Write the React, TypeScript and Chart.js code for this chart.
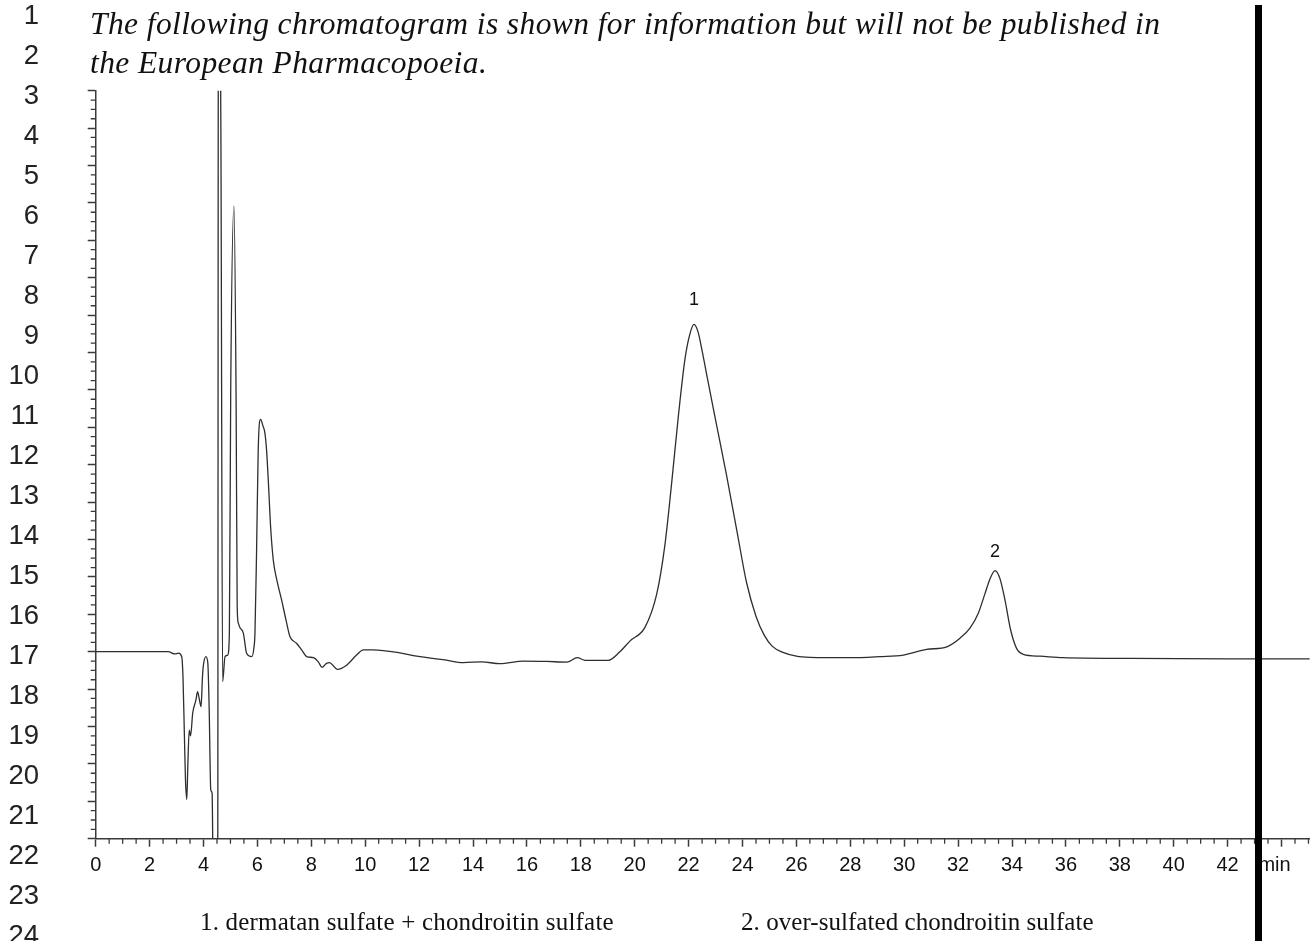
import React, { useEffect, useRef } from "react";
import { Chart, registerables } from "chart.js";

Chart.register(...registerables);

// Retention time (min)
const times: number[] = [
  0, 1.5, 2.69, 2.94, 3.07, 3.19, 3.24, 3.29, 3.33, 3.38, 3.42, 3.47, 3.52, 3.6, 3.72, 3.78, 3.84, 3.91,
  3.96, 3.99, 4.09, 4.16, 4.21, 4.27, 4.32, 4.36, 4.5, 4.53, 4.55, 4.63, 4.65, 4.71, 4.8, 4.9, 4.96,
  5.01, 5.13, 5.21, 5.25, 5.29, 5.35, 5.48, 5.6, 5.79, 5.87, 5.91, 5.97, 6.03, 6.12, 6.2, 6.28, 6.34,
  6.41, 6.49, 6.59, 6.72, 6.9, 7.06, 7.21, 7.46, 7.64, 7.83, 8.08, 8.26, 8.4, 8.55, 8.67, 8.97, 9.31,
  9.68, 9.93, 10.3, 11.29, 11.91, 12.96, 13.64, 14.32, 15.0, 15.87, 16.73, 17.48, 17.87, 18.16, 19.02,
  19.45, 19.83, 20.38, 20.82, 21.12, 21.37, 21.62, 21.87, 22.05, 22.2, 22.35, 22.5, 22.7, 23.0, 23.4,
  23.8, 24.15, 24.5, 24.8, 25.1, 25.5, 26.0, 26.5, 28.0, 29.1, 29.97, 30.83, 31.58, 32.07, 32.44, 32.75,
  33.0, 33.19, 33.37, 33.55, 33.74, 33.95, 34.17, 34.42, 35.04, 35.9, 38.38, 42.09, 45.05,
];

// Detector signal (arbitrary units)
const signal: number[] = [
  5.0, 5.0, 5.0, 4.94, 4.96, 4.87, 4.3, 2.8, 1.6, 1.05, 2.0, 2.9, 2.75, 3.36, 3.71, 3.93, 3.75, 3.53,
  4.3, 4.6, 4.87, 4.7, 3.5, 1.3, 1.22, -1, -1, 0, 21, 21, 18, 4.2, 4.87, 4.91, 5.5,
  12.0, 16.92, 11.7, 6.2, 5.77, 5.65, 5.49, 4.96, 4.87, 5.1, 5.5, 7.72, 10.39, 11.21, 11.05, 10.84, 10.39,
  9.5, 8.34, 7.45, 6.92, 6.38, 5.85, 5.4, 5.22, 5.05, 4.87, 4.84, 4.73, 4.58, 4.68, 4.71, 4.53, 4.64,
  4.91, 5.05, 5.05, 4.97, 4.88, 4.78, 4.71, 4.73, 4.68, 4.75, 4.74, 4.72, 4.84, 4.77, 4.77,
  5.0, 5.29, 5.65, 6.55, 7.85, 9.5, 11.3, 12.85, 13.5, 13.75, 13.55, 13.05, 12.3, 11.2, 9.75,
  8.2, 6.85, 5.95, 5.45, 5.15, 4.98, 4.88, 4.85, 4.84, 4.87, 4.91, 5.06, 5.13, 5.36, 5.63, 6.03,
  6.56, 6.96, 7.17, 6.96, 6.38, 5.58, 5.09, 4.93, 4.88, 4.84, 4.82, 4.81, 4.81,
];

// Peak annotations
const peakLabels: string[] = ["1", "2"];
const peakTimes: number[] = [22.2, 33.37];
const peakLabelLevels: number[] = [14.39, 7.67];

// Axis settings
const X_MIN = 0;
const X_MAX = 45.05;
const X_MAJOR = 2;
const X_MINOR = 0.5;
const Y_MIN = 0;
const Y_MAX = 20;
const Y_MAJOR = 1;
const Y_MINOR = 0.25;
const X_UNIT_LABEL = "min";
const X_UNIT_AT = 43.74;
const X_UNIT_TICK = 44;

// Page texts
const titleLines: string[] = [
  "The following chromatogram is shown for information but will not be published in",
  "the European Pharmacopoeia.",
];
const legendItems: string[] = [
  "1. dermatan sulfate + chondroitin sulfate",
  "2. over-sulfated chondroitin sulfate",
];
const lineNumbers: number[] = Array.from({ length: 24 }, (_, i) => i + 1);

const AXIS_COLOR = "#3a3a3a";
const TRACE_COLOR = "#2e2e2e";
const SANS = "'Liberation Sans', Arial, sans-serif";
const SERIF = "'Liberation Serif', 'Times New Roman', serif";
const TICK_FONT_SIZE = 20;
const TICK_PADDING = 7;

const minorTicksPlugin = {
  id: "minorTicks",
  afterDraw(chart: any) {
    const { ctx, scales } = chart;
    const x = scales.x;
    const y = scales.y;
    ctx.save();
    ctx.strokeStyle = AXIS_COLOR;
    ctx.lineWidth = 1.3;
    ctx.beginPath();
    for (let v = X_MIN; v <= X_MAX + 1e-6; v += X_MINOR) {
      const r = v / X_MAJOR;
      if (Math.abs(r - Math.round(r)) < 1e-6) continue;
      const px = x.getPixelForValue(v);
      ctx.moveTo(px, y.bottom);
      ctx.lineTo(px, y.bottom + 5);
    }
    for (let v = Y_MIN; v <= Y_MAX + 1e-6; v += Y_MINOR) {
      const r = v / Y_MAJOR;
      if (Math.abs(r - Math.round(r)) < 1e-6) continue;
      const py = y.getPixelForValue(v);
      ctx.moveTo(x.left - 5, py);
      ctx.lineTo(x.left, py);
    }
    ctx.stroke();
    // unit label on the time axis
    ctx.fillStyle = "#111";
    ctx.font = `${TICK_FONT_SIZE}px ${SANS}`;
    ctx.textAlign = "center";
    ctx.textBaseline = "top";
    ctx.fillText(X_UNIT_LABEL, x.getPixelForValue(X_UNIT_AT), y.bottom + 10 + TICK_PADDING);
    ctx.restore();
  },
};

const peakLabelPlugin = {
  id: "peakLabels",
  afterDatasetsDraw(chart: any) {
    const { ctx, scales } = chart;
    ctx.save();
    ctx.fillStyle = "#111";
    ctx.font = `18px ${SANS}`;
    ctx.textAlign = "center";
    ctx.textBaseline = "middle";
    peakLabels.forEach((lab, i) => {
      ctx.fillText(lab, scales.x.getPixelForValue(peakTimes[i]), scales.y.getPixelForValue(peakLabelLevels[i]));
    });
    ctx.restore();
  },
};

function ChromChart() {
  const ref = useRef<HTMLCanvasElement | null>(null);
  useEffect(() => {
    if (!ref.current) return;
    const chart = new Chart(ref.current, {
      type: "line",
      data: {
        datasets: [
          {
            data: times.map((t, i) => ({ x: t, y: signal[i] })),
            borderColor: TRACE_COLOR,
            borderWidth: 1.3,
            pointRadius: 0,
            fill: false,
            cubicInterpolationMode: "monotone",
          },
        ],
      },
      options: {
        responsive: false,
        animation: false,
        devicePixelRatio: 1,
        layout: { padding: { top: 90.7, right: 4.2, left: 0, bottom: 0 } },
        plugins: { legend: { display: false }, tooltip: { enabled: false } },
        scales: {
          x: {
            type: "linear",
            min: X_MIN,
            max: X_MAX,
            afterFit: (s: any) => {
              s.height = 102.3;
            },
            border: { color: AXIS_COLOR, width: 1.5 },
            grid: { drawOnChartArea: false, drawTicks: true, tickLength: 8, tickColor: AXIS_COLOR, tickWidth: 1.5 },
            ticks: {
              stepSize: X_MAJOR,
              includeBounds: false,
              autoSkip: false,
              maxRotation: 0,
              padding: TICK_PADDING,
              color: "#111",
              font: { family: SANS, size: TICK_FONT_SIZE },
              callback: (v: any) => (Math.abs(v - X_UNIT_TICK) < 1e-6 ? "" : String(v)),
            },
          },
          y: {
            type: "linear",
            min: Y_MIN,
            max: Y_MAX,
            afterFit: (s: any) => {
              s.width = 95.7;
            },
            border: { color: AXIS_COLOR, width: 1.5 },
            grid: { drawOnChartArea: false, drawTicks: true, tickLength: 8, tickColor: AXIS_COLOR, tickWidth: 1.5 },
            ticks: { stepSize: Y_MAJOR, display: false },
          },
        },
      } as any,
      plugins: [minorTicksPlugin, peakLabelPlugin],
    });
    return () => chart.destroy();
  }, []);
  return <canvas ref={ref} width={1314} height={941} style={{ position: "absolute", left: 0, top: 0 }} />;
}

export default function App() {
  return (
    <div style={{ position: "fixed", left: 0, top: 0, width: 1314, height: 941, overflow: "hidden", background: "#fff" }}>
      <ChromChart />
      {lineNumbers.map((n) => (
        <div
          key={n}
          style={{
            position: "absolute",
            left: 0,
            width: 39,
            top: (n - 1) * 40 - 5,
            height: 40,
            lineHeight: "40px",
            textAlign: "right",
            fontFamily: SANS,
            fontSize: 27.5,
            color: "#222",
          }}
        >
          {n}
        </div>
      ))}
      {titleLines.map((t, i) => (
        <div
          key={i}
          style={{
            position: "absolute",
            left: 90,
            top: 8 + i * 39,
            lineHeight: "31.5px",
            fontFamily: SERIF,
            fontStyle: "italic",
            fontSize: 31.5,
            letterSpacing: 0.4,
            color: "#111",
            whiteSpace: "nowrap",
          }}
        >
          {t}
        </div>
      ))}
      {legendItems.map((t, i) => (
        <div
          key={i}
          style={{
            position: "absolute",
            left: i === 0 ? 200 : 741,
            top: 909,
            lineHeight: "25px",
            fontFamily: SERIF,
            fontSize: 25,
            letterSpacing: i === 0 ? 0.2 : 0.05,
            color: "#111",
            whiteSpace: "nowrap",
          }}
        >
          {t}
        </div>
      ))}
      <div style={{ position: "absolute", left: 1255, top: 5, width: 7, height: 936, background: "#000" }} />
    </div>
  );
}
